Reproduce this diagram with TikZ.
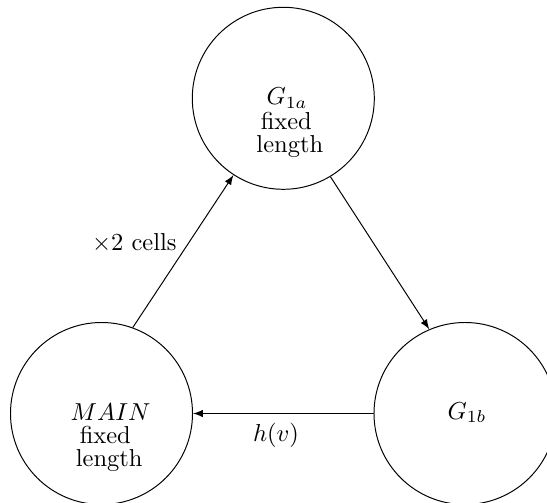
\documentclass[tikz,border=0pt]{standalone}
\usetikzlibrary{arrows}
\begin{document}
\begin{tikzpicture}[x=0.4082pt, y=-0.4082pt,
  state/.style={draw, circle, line width=0.4pt, inner sep=0pt, minimum size=74.3pt},
  txt/.style={anchor=base, inner sep=0pt},
  title/.style={txt, text depth=0pt},
  link/.style={-latex, line width=0.4pt}]
  \useasboundingbox (0,0) rectangle (547,502);

  % the three states
  \node[state] (A) at (283.3,98.3) {};
  \node[state] (M) at (101.5,413.5) {};
  \node[state] (B) at (465,413.5) {};

  % texts inside the states
  \node[title] (atitle) at (287,104.8) {$G_{1a}$};
  \node[txt] (afix) at (286.3,129.3) {fixed};
  \node[txt] (alen) at (289.8,152.2) {length};
  \node[title] (mtitle) at (110.5,420) {$MAIN$};
  \node[txt] (mfix) at (105.3,443.3) {fixed};
  \node[txt] (mlen) at (109.2,466.7) {length};
  \node[title] (btitle) at (467,419.3) {$G_{1b}$};

  % transitions
  \draw[link] (M.70.8) -- (A.237.5);
  \draw[link] (A.-59.6) -- (B.113.3);
  \draw[link] (B.180) -- (M.0);

  % transition labels
  \node[txt] (cells) at (134.3,250.8) {$\times2$ cells};
  \node[txt] (hv) at (276,441.7) {$h(v)$};
\end{tikzpicture}
\end{document}
